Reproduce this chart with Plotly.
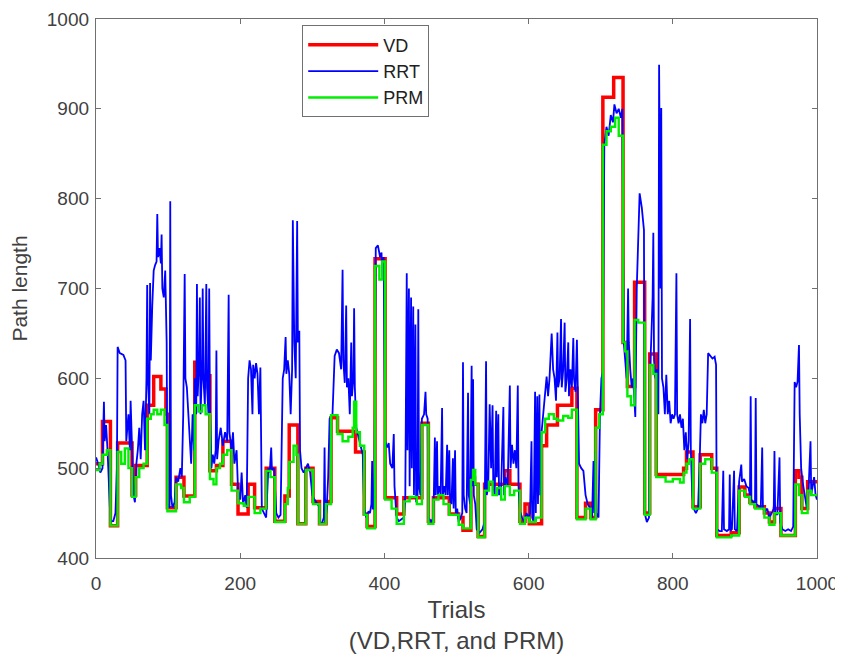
import plotly.graph_objects as go

# VD path length: step changes (trial, length)
vd_points = [(0,505),(9,552),(20,436),(30,528),(50,470),(55,503),(71,570),(80,602),(90,588),(97,560),
             (99,456),(111,490),(122,469),(137,618),(147,603),(158,497),(167,503),(176,530),(188,482),(197,449),
             (211,482),(220,456),(236,500),(248,441),(262,469),(268,548),(280,438),(291,500),(301,463),(310,438),
             (319,463),(326,556),(335,541),(360,518),(372,449),(376,435),(387,733),(401,467),(417,449),(427,467),
             (452,550),(461,441),(468,467),(490,449),(503,445),(509,431),(520,489),(525,482),(530,424),(539,482),
             (567,497),(574,482),(588,441),(595,460),(601,438),(618,525),(625,548),(640,570),(660,589),(667,445),
             (679,461),(686,445),(693,565),(703,913),(718,935),(731,640),(737,591),(747,707),(761,450),(768,627),
             (777,493),(815,500),(819,518),(828,457),(838,515),(854,500),(861,425),(881,428),(892,479),(900,470),
             (907,462),(914,457),(927,450),(934,440),(941,455),(950,425),(970,497),(975,490),(979,455),(987,485),
             (1000,485)]

# PRM path length (trial, length)
prm_points = [(0,498),(5,505),(9,515),(15,520),(20,436),(30,518),(35,505),(40,522),(45,500),(50,468),
              (55,490),(60,500),(66,505),(71,555),(76,560),(80,565),(85,560),(90,565),(95,548),(99,452),
              (111,482),(118,478),(122,462),(130,468),(137,570),(142,563),(147,570),(152,560),(158,488),(163,482),
              (167,500),(172,505),(176,515),(182,520),(188,475),(197,461),(205,458),(211,468),(220,450),(228,455),
              (236,497),(242,490),(248,440),(256,440),(262,460),(266,478),(268,507),(274,525),(278,515),(280,438),
              (291,498),(301,460),(310,438),(319,460),(326,559),(335,538),(342,530),(350,535),(356,545),(358,574),
              (361,540),(366,525),(372,448),(376,433),(387,725),(393,710),(397,730),(401,465),(410,455),(417,438),
              (427,463),(435,468),(445,460),(452,548),(461,438),(468,465),(475,470),(482,460),(490,448),(503,437),
              (509,433),(520,487),(523,498),(526,482),(530,423),(539,475),(545,485),(550,470),(556,478),(562,465),
              (567,480),(574,470),(580,475),(588,438),(595,445),(601,440),(610,445),(618,540),(623,555),(628,560),
              (635,555),(640,553),(648,558),(655,556),(660,565),(667,443),(679,455),(686,443),(693,545),(698,560),
              (703,860),(708,875),(714,880),(720,890),(725,870),(731,640),(734,630),(737,580),(742,570),(747,665),
              (752,662),(761,448),(768,615),(773,605),(777,490),(790,485),(800,488),(810,484),(815,495),(819,505),
              (823,510),(828,455),(838,505),(845,510),(854,495),(861,423),(881,425),(892,475),(900,468),(907,460),
              (914,455),(927,445),(934,437),(941,450),(950,425),(970,482),(975,470),(979,450),(987,475),(992,470),
              (1000,470)]

# RRT path length (trial, length)
rrt_points = [(0,512),(3,505),(6,495),(9,500),(10,540),(11,574),(12,530),(14,548),(16,520),(18,470),
              (20,441),(24,441),(27,450),(29,500),(30,635),(33,628),(38,626),(41,620),(42,530),(45,560),
              (47,520),(48,575),(50,520),(52,470),(54,462),(56,505),(58,520),(60,545),(62,510),(64,560),
              (66,575),(68,520),(70,600),(71,704),(72,600),(74,560),(75,706),(76,620),(78,680),(80,720),
              (82,726),(84,730),(85,783),(86,735),(88,745),(90,728),(91,760),(92,700),(94,690),(96,720),
              (98,640),(99,460),(102,456),(103,797),(104,470),(106,456),(109,462),(111,490),(114,485),(117,500),
              (119,490),(121,560),(123,716),(124,600),(126,590),(128,560),(130,540),(132,505),(134,560),(136,520),
              (137,600),(139,560),(140,705),(141,580),(143,620),(144,690),(145,560),(147,610),(148,700),(149,600),
              (151,570),(153,705),(154,590),(156,560),(157,700),(158,570),(160,500),(162,515),(164,505),(166,520),
              (167,631),(168,510),(170,530),(173,545),(176,525),(179,540),(182,530),(184,693),(185,540),(188,520),
              (190,540),(192,505),(195,520),(197,475),(200,465),(202,495),(204,460),(207,470),(209,456),(211,600),
              (213,620),(215,610),(217,560),(218,615),(220,600),(222,617),(224,605),(226,560),(228,612),(230,455),
              (233,450),(236,445),(239,500),(241,495),(243,523),(244,498),(247,500),(250,450),(253,445),(256,448),
              (259,600),(261,610),(263,646),(264,605),(266,620),(268,605),(270,560),(272,610),(273,776),(275,640),
              (277,600),(279,775),(280,640),(282,653),(283,520),(285,500),(288,495),(291,500),(294,505),(297,495),
              (300,470),(303,465),(306,462),(309,458),(311,438),(314,440),(316,445),(317,523),(318,440),(320,455),
              (322,490),(324,555),(328,560),(331,625),(334,632),(337,628),(340,610),(342,721),(343,620),(345,595),
              (347,681),(348,590),(350,600),(352,560),(354,640),(355,580),(357,600),(358,678),(359,590),(361,545),
              (364,535),(367,525),(370,515),(372,455),(375,445),(378,452),(380,450),(382,460),(383,508),(384,455),
              (386,455),(388,745),(391,748),(394,735),(396,740),(397,714),(399,735),(401,530),(404,523),(406,528),
              (408,505),(411,500),(413,538),(414,480),(417,445),(420,441),(424,443),(427,445),(429,470),(431,717),
              (432,520),(434,700),(435,480),(437,690),(438,500),(440,680),(441,470),(443,660),(444,462),(446,470),
              (447,677),(448,480),(450,470),(452,555),(455,560),(457,585),(458,560),(460,555),(461,445),(465,440),
              (468,445),(470,534),(471,470),(473,530),(474,470),(476,480),(478,470),(480,567),(481,470),(483,480),
              (485,470),(487,526),(488,470),(490,520),(491,465),(493,460),(495,511),(496,455),(498,520),(499,450),
              (501,455),(503,440),(506,445),(508,450),(509,618),(510,470),(512,455),(514,450),(516,584),(517,470),
              (519,460),(521,614),(522,480),(523,599),(524,470),(526,460),(528,432),(532,428),(536,432),(539,440),
              (541,619),(542,470),(544,480),(546,571),(548,500),(550,570),(551,480),(553,470),(555,564),(556,490),
              (558,560),(559,470),(562,480),(565,568),(566,470),(568,490),(571,480),(574,592),(575,500),(577,526),
              (579,505),(581,520),(583,500),(585,592),(586,480),(588,452),(591,445),(594,440),(597,450),(600,445),
              (602,450),(604,530),(605,445),(607,440),(609,585),(610,450),(612,580),(613,460),(615,582),(616,470),
              (618,540),(620,560),(622,575),(625,602),(627,580),(629,600),(632,650),(634,610),(636,600),(638,575),
              (640,651),(641,590),(643,600),(645,666),(646,590),(648,610),(650,662),(651,585),(653,600),(655,640),
              (656,580),(658,610),(660,590),(662,645),(663,600),(665,585),(667,643),(668,600),(670,505),(673,500),
              (676,497),(679,470),(682,460),(685,456),(688,445),(690,508),(691,450),(693,519),(694,450),(697,445),
              (699,560),(701,600),(703,607),(705,860),(708,880),(711,870),(714,893),(717,885),(719,905),(722,895),
              (725,900),(728,890),(730,900),(732,640),(734,620),(736,600),(738,700),(739,640),(741,610),(743,590),
              (745,600),(747,565),(748,557),(750,700),(752,760),(754,806),(757,790),(760,765),(761,450),(764,440),
              (767,445),(768,600),(770,640),(772,690),(773,762),(774,620),(776,600),(778,610),(780,560),(781,949),
              (783,700),(784,901),(785,600),(787,590),(789,560),(791,604),(793,560),(795,575),(797,550),(799,560),
              (801,555),(803,560),(805,717),(806,560),(808,550),(810,560),(812,545),(814,555),(816,520),(818,540),
              (820,510),(822,530),(824,666),(825,520),(827,470),(829,455),(832,450),(835,455),(837,500),(839,560),
              (841,550),(843,565),(845,550),(847,560),(849,628),(852,625),(855,622),(858,624),(860,615),(861,432),
              (865,430),(868,430),(870,497),(871,432),(875,430),(878,432),(879,493),(880,430),(882,432),(885,497),
              (886,432),(889,430),(892,485),(895,504),(896,485),(899,488),(902,480),(905,478),(907,470),(908,580),
              (909,465),(912,462),(914,460),(915,578),(916,460),(919,458),(922,455),(924,523),(925,455),(928,452),
              (931,455),(934,445),(937,450),(940,455),(941,519),(942,450),(945,448),(948,512),(949,440),(952,432),
              (956,430),(960,432),(964,430),(967,435),(969,596),(971,590),(973,596),(975,637),(976,560),(978,500),
              (980,485),(983,470),(986,455),(988,470),(991,530),(992,470),(994,480),(996,490),(998,470),(1000,465)]

x_ticks = [0, 200, 400, 600, 800, 1000]
y_ticks = [400, 500, 600, 700, 800, 900, 1000]

def unzip(pts):
    return [p[0] for p in pts], [p[1] for p in pts]

vd_x, vd_y = unzip(vd_points)
prm_x, prm_y = unzip(prm_points)
rrt_x, rrt_y = unzip(rrt_points)

fig = go.Figure()
fig.add_trace(go.Scatter(x=vd_x, y=vd_y, mode="lines", name="VD",
                         line=dict(color="#ff0000", width=3.5, shape="hv")))
fig.add_trace(go.Scatter(x=rrt_x, y=rrt_y, mode="lines", name="RRT",
                         line=dict(color="#0000ff", width=1.8)))
fig.add_trace(go.Scatter(x=prm_x, y=prm_y, mode="lines", name="PRM",
                         line=dict(color="#00ee00", width=2.4, shape="hv")))

font_family = "Liberation Sans, Arial, Helvetica, sans-serif"
axis_common = dict(showline=True, linecolor="#707070", linewidth=1.3, mirror="ticks",
                   ticks="inside", ticklen=5, tickcolor="#707070", showgrid=False, zeroline=False,
                   automargin=False, ticklabeloverflow="allow",
                   tickfont=dict(family=font_family, size=19, color="#404040"))

fig.update_layout(
    width=843, height=662,
    margin=dict(l=88, r=34, t=11, b=112),
    paper_bgcolor="white", plot_bgcolor="white",
    font=dict(family=font_family, color="#404040"),
    xaxis=dict(range=[0, 1000], tickvals=x_ticks, ticklabelstandoff=8,
               title=dict(text="Trials<br>(VD,RRT, and PRM)", font=dict(size=24, color="#404040"), standoff=8),
               **axis_common),
    yaxis=dict(range=[400, 1000], tickvals=y_ticks, ticklabelstandoff=2,
               title=dict(text="Path length", font=dict(size=21, color="#404040"), standoff=26),
               **axis_common),
    legend=dict(x=0.286, y=0.988, xanchor="left", yanchor="top",
                bgcolor="white", bordercolor="#707070", borderwidth=1,
                font=dict(family=font_family, size=18, color="#202020"),
                itemwidth=70, tracegroupgap=0),
    showlegend=True,
)

fig.write_html("out.html")
